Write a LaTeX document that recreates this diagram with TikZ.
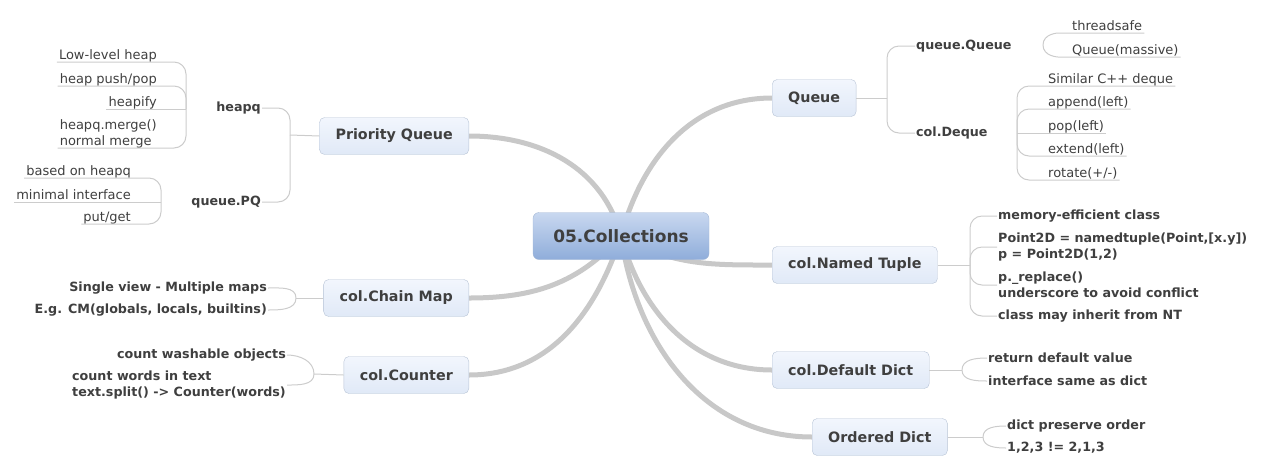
\documentclass[tikz,border=0pt]{standalone}
\usepackage{fontspec}
\setmainfont{DejaVu Sans}
\usetikzlibrary{positioning,backgrounds}
\definecolor{txt}{HTML}{3F3F3F}
\definecolor{branch}{HTML}{C8C8C8}
\definecolor{twigc}{HTML}{CCCCCC}
\definecolor{boxtop}{HTML}{F2F6FD}
\definecolor{boxbot}{HTML}{E0E9F7}
\definecolor{boxline}{HTML}{B8C4D6}
\definecolor{roottop}{HTML}{C9D8F0}
\definecolor{rootbot}{HTML}{8FADDA}
\definecolor{rootline}{HTML}{A3B7D5}
\tikzset{
    %Define style for the central box
    rootbox/.style={
           rectangle, rounded corners=6pt,
           draw = rootline, top color = roottop, bottom color = rootbot,
           text = txt, font = \bfseries\fontsize{17}{20}\selectfont,
           minimum width = 176pt, minimum height = 47pt},
    %Define style for boxes
    topicbox/.style={
           rectangle, rounded corners=5pt,
           draw = boxline, top color = boxtop, bottom color = boxbot,
           text = txt, font = \bfseries\fontsize{14.3}{17}\selectfont,
           inner xsep = 16pt, minimum height = 37pt},
    subtopic/.style={
           text = txt, font = \bfseries\fontsize{12.7}{16}\selectfont,
           inner sep = 1pt},
    leaf/.style={
           text = txt, font = \fontsize{13}{16}\selectfont,
           inner xsep = 2pt, inner ysep = 2.5pt, text depth = 0pt},
    % Define connector styles
    trunk/.style={
           draw = branch, line width = 5pt},
    twig/.style={
           draw = twigc, line width = 1pt, rounded corners = 12pt}
}
\begin{document}
\begin{tikzpicture}[x=1pt, y=-1pt]
\useasboundingbox (0,0) rectangle (1273,472);
 %main topics
\node[rootbox] (cc) at (621,236) {05.Collections};
\node[topicbox, anchor=west] (qu) at (772,98) {Queue};
\node[topicbox, anchor=west] (nt) at (772,265) {col.Named Tuple};
\node[topicbox, anchor=west] (dd) at (772,370) {col.Default Dict};
\node[topicbox, anchor=west] (od) at (812,437) {Ordered Dict};
\node[topicbox, anchor=east] (pq) at (469,136) {Priority Queue};
\node[topicbox, anchor=east] (cm) at (469,298) {col.Chain Map};
\node[topicbox, anchor=east] (cn) at (469,375) {col.Counter};
 %subtopics
\node[subtopic, anchor=east] (hq) at (262,108) {heapq};
\node[subtopic, anchor=east] (qpq) at (262,202) {queue.PQ};
\node[subtopic, anchor=west] (qq) at (915,46) {queue.Queue};
\node[subtopic, anchor=west] (dq) at (915,133) {col.Deque};
 %leaves
\node[leaf, anchor=south east] (hq1) at (159,62) {Low-level heap};
\node[leaf, anchor=south east] (hq2) at (159,86) {heap push/pop};
\node[leaf, anchor=south east] (hq3) at (159,109) {heapify};
\node[leaf, anchor=south east, align=left] (hq4) at (159,148) {heapq.merge()\\normal merge};
\node[leaf, anchor=south east] (qp1) at (133,178) {based on heapq};
\node[leaf, anchor=south east] (qp2) at (133,202) {minimal interface};
\node[leaf, anchor=south east] (qp3) at (133,224) {put/get};
\node[leaf, anchor=south west] (qq1) at (1070,33) {threadsafe};
\node[leaf, anchor=south west] (qq2) at (1070,57) {Queue(massive)};
\node[leaf, anchor=south west] (dq1) at (1046,86) {Similar C++ deque};
\node[leaf, anchor=south west] (dq2) at (1046,109) {append(left)};
\node[leaf, anchor=south west] (dq3) at (1046,133) {pop(left)};
\node[leaf, anchor=south west] (dq4) at (1046,156) {extend(left)};
\node[leaf, anchor=south west] (dq5) at (1046,180) {rotate(+/-)};
\node[subtopic, anchor=west] (nt1) at (997,216) {memory-efficient class};
\node[subtopic, anchor=west, align=left] (nt2) at (997,247) {Point2D = namedtuple(Point,[x.y])\\p = Point2D(1,2)};
\node[subtopic, anchor=west, align=left] (nt3) at (997,285) {p.\_replace()\\underscore to avoid conflict};
\node[subtopic, anchor=west] (nt4) at (997,316) {class may inherit from NT};
\node[subtopic, anchor=west] (dd1) at (987,358) {return default value};
\node[subtopic, anchor=west] (dd2) at (987,381) {interface same as dict};
\node[subtopic, anchor=west] (od1) at (1006,426) {dict preserve order};
\node[subtopic, anchor=west] (od2) at (1006,448) {1,2,3 != 2,1,3};
\node[subtopic, anchor=east] (cm1) at (268,288) {Single view - Multiple maps};
\node[subtopic, anchor=east] (cm2) at (268,310) {E.g. CM(globals, locals, builtins)};
\node[subtopic, anchor=east] (cn1) at (287,355) {count washable objects};
\node[subtopic, anchor=east, align=left] (cn2) at (287,385) {count words in text\\text.split() -> Counter(words)};
 %junctions
\coordinate (pqj) at (290,135);
\coordinate (hqj) at (186,109);
\coordinate (qpj) at (161,202);
\coordinate (quj) at (887,98);
\coordinate (qqj) at (1043,45);
\coordinate (dqj) at (1017,133);
\coordinate (ntj) at (970,265);
\coordinate (ddj) at (962,370);
\coordinate (odj) at (983,437);
\coordinate (cmj) at (296,298);
\coordinate (cnj) at (314,374);
 %main branches
\begin{scope}[on background layer]
\draw[trunk] (cc.center) to[out=75, in=180] (qu.west);
\draw[trunk] (cc.center) to[out=-30, in=180] (nt.west);
\draw[trunk] (cc.center) to[out=-75, in=180] (dd.west);
\draw[trunk] (cc.center) to[out=-82, in=180] (od.west);
\draw[trunk] (cc.center) to[out=105, in=0] (pq.east);
\draw[trunk] (cc.center) to[out=228, in=0] (cm.east);
\draw[trunk] (cc.center) to[out=252, in=0] (cn.east);
\end{scope}
 %Priority Queue
\draw[twig] (pq.west) -- (pqj);
\draw[twig] (pqj) -- (pqj |- hq.east) -- (hq.east);
\draw[twig] (pqj) -- (pqj |- qpq.east) -- (qpq.east);
\draw[twig] (hqj) -- (hqj |- hq1.south east) -- (hq1.south west);
\draw[twig] (hqj) -- (hqj |- hq2.south east) -- (hq2.south west);
\draw[twig] (hqj) -- (hq3.south west);
\draw[twig] (hqj) -- (hqj |- hq4.south east) -- (hq4.south west);
\draw[twig] (qpj) -- (qpj |- qp1.south east) -- (qp1.south west);
\draw[twig] (qpj) -- (qp2.south west);
\draw[twig] (qpj) -- (qpj |- qp3.south east) -- (qp3.south west);
 %Queue
\draw[twig] (qu.east) -- (quj);
\draw[twig] (quj) -- (quj |- qq.west) -- (qq.west);
\draw[twig] (quj) -- (quj |- dq.west) -- (dq.west);
\draw[twig] (qqj) to[out=90, in=180] (qq1.south west) -- (qq1.south east);
\draw[twig] (qqj) to[out=-90, in=180] (qq2.south west) -- (qq2.south east);
\draw[twig] (dqj) -- (dqj |- dq1.south west) -- (dq1.south east);
\draw[twig] (dqj) -- (dqj |- dq2.south west) -- (dq2.south east);
\draw[twig] (dqj) -- (dq3.south east);
\draw[twig] (dqj) -- (dqj |- dq4.south west) -- (dq4.south east);
\draw[twig] (dqj) -- (dqj |- dq5.south west) -- (dq5.south east);
 %Named Tuple
\draw[twig] (nt.east) -- (ntj);
\foreach \n in {nt1,nt2,nt3,nt4}
  \draw[twig] (ntj) -- (ntj |- \n.west) -- (\n.west);
 %Default Dict and Ordered Dict
\draw[twig] (dd.east) -- (ddj);
\draw[twig] (ddj) to[out=90, in=180] (dd1.west);
\draw[twig] (ddj) to[out=-90, in=180] (dd2.west);
\draw[twig] (od.east) -- (odj);
\draw[twig] (odj) to[out=90, in=180] (od1.west);
\draw[twig] (odj) to[out=-90, in=180] (od2.west);
 %Chain Map and Counter
\draw[twig] (cm.west) -- (cmj);
\draw[twig] (cmj) to[out=90, in=0] (cm1.east);
\draw[twig] (cmj) to[out=-90, in=0] (cm2.east);
\draw[twig] (cn.west) -- (cnj);
\draw[twig] (cnj) to[out=90, in=0] (cn1.east);
\draw[twig] (cnj) to[out=-90, in=0] (cn2.east);
\end{tikzpicture}
\end{document}
